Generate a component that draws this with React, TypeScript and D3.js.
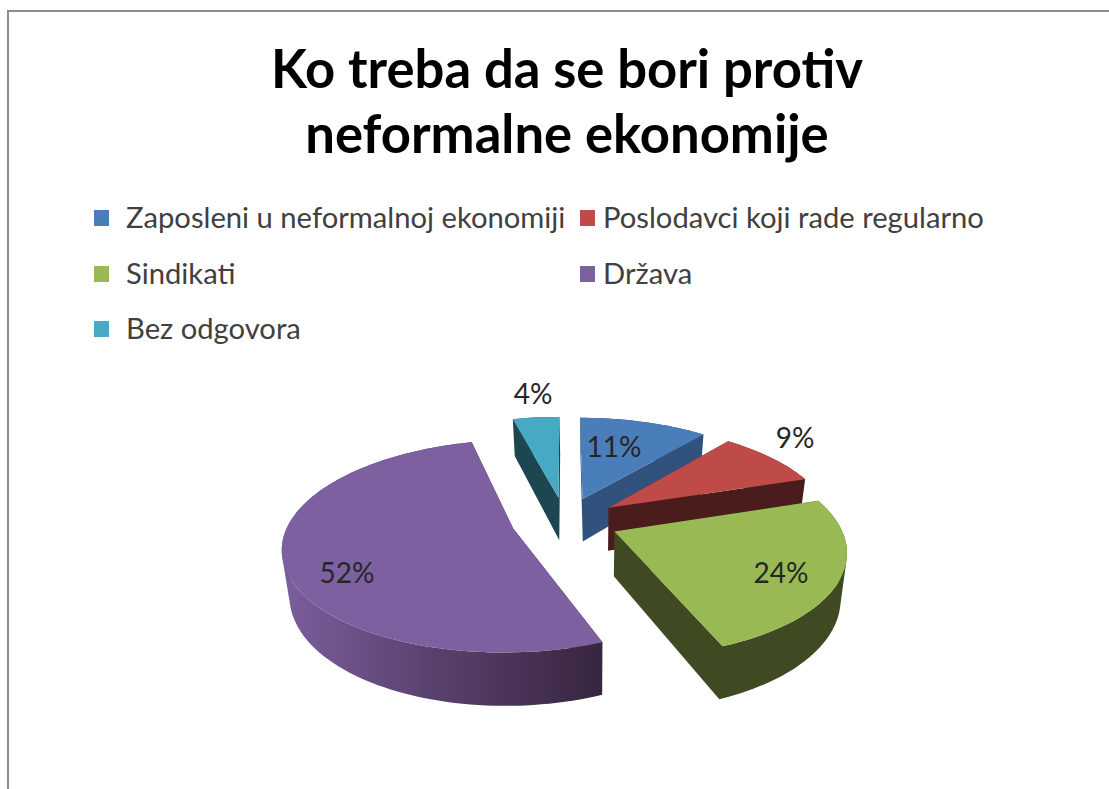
import React from 'react';
import * as d3 from 'd3';

const categories = ['Zaposleni u neformalnoj ekonomiji', 'Poslodavci koji rade regularno', 'Sindikati', 'Država', 'Bez odgovora'];
const values = [11, 9, 24, 52, 4];
const topColors = ['#4a7ebb', '#be4b48', '#98b954', '#7d60a0', '#46aac5'];
const sideColors = ['#31527c', '#4a1c1c', '#3f4a22', 'url(#purpleSide)', '#1c4650'];
const titleLines = ['Ko treba da se bori protiv', 'neformalne ekonomije'];
// where the % labels sit, same order as values
const labelPos = [[614, 457], [795, 448], [781, 583], [347, 583], [533, 404]];
// legend grid
const legendX = [94, 580];
const legendTextX = [126, 603];
const legendY = [218, 274, 329];

const width = 1109;
const height = 789;
const cx = 565, cy = 521;
const rx = 224, ry = 101;
const persp = 0.163;      // how much the far side shrinks
const explode = 0.24;
const depth = 44;
const vanishX = 590;

type Pt = [number, number];

// pie plane -> screen, r in units of the pie radius
function project(mid: number, r: number, a: number): Pt {
  const X = explode * Math.sin(mid) + r * Math.sin(a);
  const V = explode * Math.cos(mid) + r * Math.cos(a);
  const w = 1 + persp * V;
  return [cx + rx * X / w, cy - ry * V / w];
}

function lower(mid: number, r: number, a: number): Pt {
  const [x, y] = project(mid, r, a);
  const V = explode * Math.cos(mid) + r * Math.cos(a);
  return [vanishX + (x - vanishX) * 0.975, y + depth / (1 + persp * V)];
}

export default function App() {
  const pie = d3.pie<number>().sort(null).value((d) => d);
  const arcs = pie(values);
  const line = d3.line();

  // back to front, so the nearer slices cover the farther ones
  const order = [4, 0, 1, 2, 3];

  return (
    <svg width={width} height={height} style={{ position: 'absolute', left: 0, top: 0 }}>
      <defs>
        <linearGradient id="purpleSide" gradientUnits="userSpaceOnUse" x1={285} y1={0} x2={600} y2={0}>
          <stop offset="0" stopColor="#7a5e9c" />
          <stop offset="0.45" stopColor="#5a4270" />
          <stop offset="1" stopColor="#38263f" />
        </linearGradient>
      </defs>
      <rect width={width} height={height} fill="#fff" />
      <path d="M8,789V11H1109" fill="none" stroke="#8c8c8c" strokeWidth={2} />

      {titleLines.map((t, i) => (
        <text key={t} x={567} y={88 + i * 65} textAnchor="middle" fontFamily="Lato" fontWeight={700} fontSize={52.6} fill="#000">{t}</text>
      ))}

      {categories.map((c, i) => (
        <g key={c}>
          <rect x={legendX[i % 2]} y={legendY[Math.floor(i / 2)] - 8} width={15} height={16} fill={topColors[i]} />
          <text x={legendTextX[i % 2]} y={legendY[Math.floor(i / 2)] + 10} fontFamily="Lato" fontSize={29.2} fill="#404040">{c}</text>
        </g>
      ))}

      {order.map((i) => {
        const d = arcs[i];
        const mid = (d.startAngle + d.endAngle) / 2;
        const angles = d3.range(d.startAngle, d.endAngle, 0.03).concat(d.endAngle);
        // outline of the slice: centre, then along the rim
        const outline: [number, number][] = [[0, d.startAngle], ...angles.map((a): [number, number] => [1, a]), [0, d.endAngle]];
        const top = outline.map(([r, a]) => project(mid, r, a));
        const bottom = outline.map(([r, a]) => lower(mid, r, a));
        // side faces go in one path, all wound the same way so nothing cancels
        const sides = top.map((p, j) => {
          const n = (j + 1) % top.length;
          const quad: Pt[] = [p, top[n], bottom[n], bottom[j]];
          if (d3.polygonArea(quad) < 0) quad.reverse();
          return line(quad) + 'Z';
        }).join('');
        return (
          <g key={i}>
            <path d={sides} fill={sideColors[i]} fillRule="nonzero" />
            <path d={line(top) + 'Z'} fill={topColors[i]} />
          </g>
        );
      })}

      {values.map((v, i) => (
        <text key={i} x={labelPos[i][0]} y={labelPos[i][1]} textAnchor="middle" fontFamily="Lato" fontSize={28} fill="#262626">{v}%</text>
      ))}
    </svg>
  );
}
